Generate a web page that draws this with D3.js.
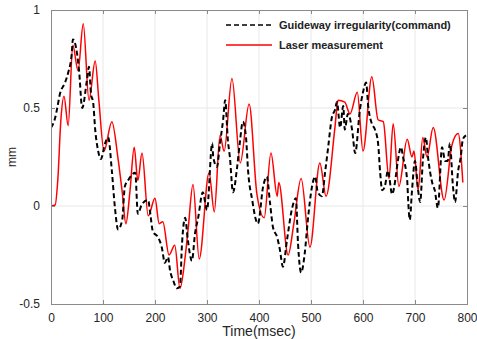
<!DOCTYPE html>
<html>
<head>
<meta charset="utf-8">
<script src="https://cdn.jsdelivr.net/npm/d3@7/dist/d3.min.js"></script>
<style>
  html, body { margin: 0; padding: 0; background: #fff; }
  svg { display: block; }
  text { font-family: "Liberation Sans", Arial, sans-serif; fill: #262626; }
</style>
</head>
<body>
<svg id="chart" width="477" height="339"></svg>
<script>
// Guideway irregularity command: [time (msec), displacement (mm)]
const commandSeries = [
  [0,0.40],[8,0.45],[12,0.50],[17,0.57],[27,0.63],[33,0.68],[40,0.78],[42,0.85],[50,0.78],[54,0.69],
  [60,0.50],[69,0.64],[73,0.71],[77,0.57],[81,0.53],[85,0.39],[90,0.29],[96,0.24],[104,0.32],[110,0.35],
  [117,0.18],[123,-0.01],[129,-0.12],[137,-0.07],[142,0.10],[148,0.13],[162,0.17],[167,-0.04],[175,0.01],[187,0.03],
  [190,-0.02],[196,-0.13],[206,-0.16],[213,-0.21],[219,-0.29],[225,-0.26],[229,-0.33],[235,-0.38],[242,-0.42],[248,-0.41],
  [252,-0.19],[258,-0.06],[263,-0.17],[271,-0.28],[277,-0.14],[283,-0.06],[292,0.07],[300,-0.02],[310,0.32],[312,0.25],
  [319,0.20],[325,0.32],[331,0.44],[335,0.54],[340,0.34],[344,0.25],[350,0.07],[358,0.20],[363,0.32],[369,0.43],
  [375,0.35],[379,0.18],[387,0.03],[394,-0.07],[398,-0.09],[408,0.10],[415,0.15],[421,0.02],[427,-0.11],[435,-0.16],
  [440,-0.22],[446,-0.31],[454,-0.17],[463,-0.02],[471,0.04],[475,-0.19],[481,-0.34],[488,-0.24],[494,-0.07],[502,0.10],
  [508,0.15],[513,0.07],[521,0.05],[527,0.17],[533,0.30],[540,0.45],[546,0.49],[550,0.53],[556,0.40],[562,0.51],
  [565,0.39],[571,0.47],[579,0.39],[585,0.27],[594,0.49],[600,0.58],[606,0.63],[610,0.51],[617,0.42],[623,0.39],
  [629,0.32],[633,0.17],[637,0.08],[642,0.10],[648,0.18],[656,0.06],[662,0.13],[667,0.23],[673,0.30],[677,0.25],
  [685,0.13],[687,0.02],[690,-0.07],[694,0.07],[700,0.23],[706,0.08],[710,0.02],[715,0.23],[721,0.35],[725,0.25],
  [733,0.12],[738,0.08],[744,-0.01],[752,0.30],[758,0.23],[763,0.23],[767,0.32],[773,0.10],[777,0.02],[783,0.18],
  [788,0.25],[792,0.34],[798,0.36]
];

// Laser measurement: [time (msec), displacement (mm)]
const laserSeries = [
  [0,0],[8,0.005],[13,0.13],[19,0.44],[25,0.56],[33,0.41],[42,0.82],[52,0.69],[62,0.93],[73,0.54],
  [85,0.74],[92,0.54],[102,0.28],[117,0.43],[129,0.24],[137,0.07],[144,-0.09],[152,0.08],[160,0.30],[167,0.13],
  [175,0.27],[187,-0.05],[200,0.04],[208,-0.09],[215,-0.08],[227,-0.25],[238,-0.20],[248,-0.42],[258,-0.26],[264,-0.11],
  [273,0.11],[285,-0.27],[304,0.17],[314,-0.03],[325,0.36],[333,0.28],[348,0.65],[364,0.22],[381,0.52],[396,0.06],
  [410,-0.06],[423,0.27],[435,0.05],[438,0.12],[456,-0.25],[467,-0.09],[481,0.14],[498,-0.21],[517,0.22],[529,0.05],
  [546,0.40],[552,0.54],[565,0.53],[575,0.47],[589,0.58],[600,0.28],[617,0.66],[629,0.44],[639,0.43],[650,0.14],
  [658,0.42],[669,0.10],[685,0.34],[694,0.25],[698,0.28],[706,0.08],[715,0.35],[723,0.25],[735,0.40],[756,0.03],
  [771,0.31],[783,0.37],[792,0.12]
];

const xTicks = [0, 100, 200, 300, 400, 500, 600, 700, 800];
const yTicks = [-0.5, 0, 0.5, 1];
const yTickLabels = ["-0.5", "0", "0.5", "1"];
const legendLabels = ["Guideway irregularity(command)", "Laser measurement"];
const xAxisTitle = "Time(msec)";
const yAxisTitle = "mm";

const W = 477, H = 339;
const margin = { top: 10, right: 10, bottom: 35, left: 51 };
const plotW = W - margin.left - margin.right;
const plotH = H - margin.top - margin.bottom;

const svg = d3.select("#chart");
const g = svg.append("g").attr("transform", `translate(${margin.left},${margin.top})`);

const x = d3.scaleLinear().domain([0, 800]).range([0, plotW]);
const y = d3.scaleLinear().domain([-0.5, 1]).range([plotH, 0]);

// grid
g.append("g").selectAll("line").data(xTicks.slice(1, -1)).join("line")
  .attr("x1", d => x(d)).attr("x2", d => x(d))
  .attr("y1", 0).attr("y2", plotH)
  .attr("stroke", "#e8e8e8").attr("stroke-width", 1);
g.append("g").selectAll("line").data(yTicks.slice(1, -1)).join("line")
  .attr("y1", d => y(d)).attr("y2", d => y(d))
  .attr("x1", 0).attr("x2", plotW)
  .attr("stroke", "#e8e8e8").attr("stroke-width", 1);

// clip for the data lines
svg.append("defs").append("clipPath").attr("id", "plotclip")
  .append("rect").attr("width", plotW).attr("height", plotH);

const line = d3.line()
  .x(d => x(d[0])).y(d => y(d[1]))
  .curve(d3.curveMonotoneX);

const lines = g.append("g").attr("clip-path", "url(#plotclip)");
lines.append("path").datum(laserSeries)
  .attr("d", line).attr("fill", "none")
  .attr("stroke", "#ff0000").attr("stroke-width", 1.5);
lines.append("path").datum(commandSeries)
  .attr("d", line).attr("fill", "none")
  .attr("stroke", "#000").attr("stroke-width", 2)
  .attr("stroke-dasharray", "5,3");

// axes box with inward ticks on all sides
const axisColor = "#8a8a8a";
const bottomAxis = g.append("g").attr("transform", `translate(0,${plotH})`)
  .call(d3.axisBottom(x).tickValues(xTicks).tickSize(-4).tickPadding(9).tickFormat(d3.format("d")));
const topAxis = g.append("g")
  .call(d3.axisTop(x).tickValues(xTicks).tickSize(-4).tickFormat(""));
const leftAxis = g.append("g")
  .call(d3.axisLeft(y).tickValues(yTicks).tickSize(-4).tickPadding(11)
    .tickFormat((d, i) => yTickLabels[i]));
const rightAxis = g.append("g").attr("transform", `translate(${plotW},0)`)
  .call(d3.axisRight(y).tickValues(yTicks).tickSize(-4).tickFormat(""));

[bottomAxis, topAxis, leftAxis, rightAxis].forEach(a => {
  a.select(".domain").attr("stroke", axisColor).attr("stroke-width", 1);
  a.selectAll(".tick line").attr("stroke", axisColor);
  a.selectAll(".tick text")
    .attr("font-family", "'Liberation Sans', Arial, sans-serif")
    .attr("font-size", 12).attr("fill", "#262626");
});

// axis titles
svg.append("text")
  .attr("x", margin.left + plotW / 2).attr("y", 336)
  .attr("text-anchor", "middle").attr("font-size", 14)
  .text(xAxisTitle);
svg.append("text")
  .attr("transform", `translate(16,${margin.top + plotH / 2}) rotate(-90)`)
  .attr("text-anchor", "middle").attr("font-size", 12)
  .text(yAxisTitle);

// legend
const legend = svg.append("g");
const legendItems = [
  { label: legendLabels[0], color: "#000", dash: "5,3", width: 1.6, yPos: 25 },
  { label: legendLabels[1], color: "#ff0000", dash: null, width: 1.3, yPos: 45 }
];
legendItems.forEach(it => {
  legend.append("line")
    .attr("x1", 226).attr("x2", 272).attr("y1", it.yPos).attr("y2", it.yPos)
    .attr("stroke", it.color).attr("stroke-width", it.width)
    .attr("stroke-dasharray", it.dash);
  legend.append("text")
    .attr("x", 279).attr("y", it.yPos).attr("dy", "0.35em")
    .attr("font-family", "'Noto Sans', 'DejaVu Sans', sans-serif")
    .attr("font-size", 11).attr("font-weight", "bold")
    .style("fill", "#222")
    .text(it.label);
});
</script>
</body>
</html>
